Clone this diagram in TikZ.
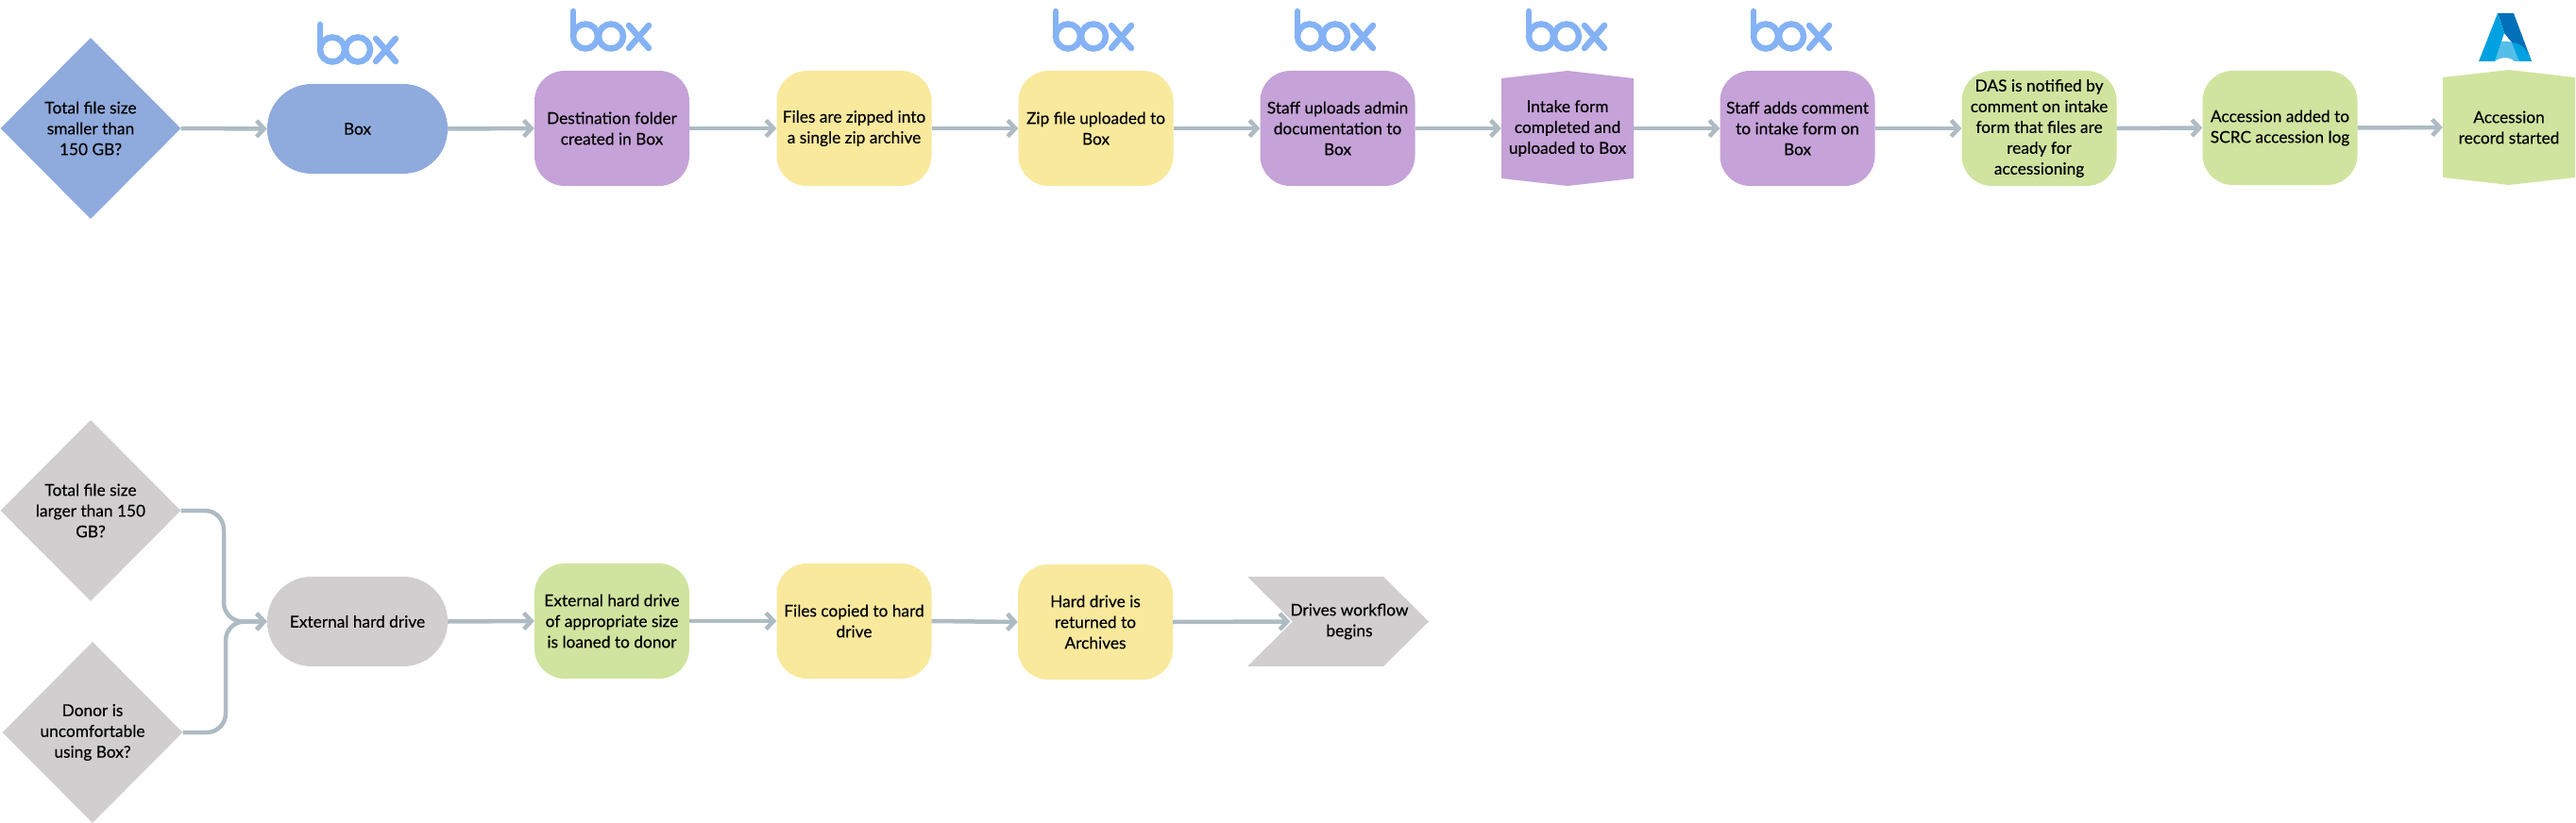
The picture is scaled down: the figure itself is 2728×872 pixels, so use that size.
\documentclass[tikz,border=0pt]{standalone}
\usepackage{fontspec}
\setmainfont{Lato}[UprightFeatures={FakeBold=0.25}]
\usetikzlibrary{shapes.geometric,arrows.meta}
\definecolor{cblue}{HTML}{8FAADC}
\definecolor{cpurple}{HTML}{C5A2D8}
\definecolor{cyellow}{HTML}{F9E99D}
\definecolor{cgreen}{HTML}{D0E49F}
\definecolor{cgrey}{HTML}{D0CECE}
\definecolor{cline}{HTML}{AEBBC3}
\definecolor{cbox}{HTML}{84B2F4}
\definecolor{azA}{HTML}{00A1E0}
\definecolor{azB}{HTML}{0270B8}
\definecolor{azC}{HTML}{53BFE8}
\tikzset{
 x=1pt,y=-1pt,
 txt/.style={font=\fontsize{17.3}{22}\selectfont,align=center,text=black,inner sep=0pt},
 flow/.style={txt,rectangle,rounded corners=32pt,minimum width=164pt,minimum height=122pt},
 term/.style={txt,rectangle,rounded corners=47pt,minimum width=191pt,minimum height=95pt},
 deci/.style={txt,diamond,shape aspect=1,minimum width=191pt,minimum height=192pt},
 plain/.style={txt,rectangle,minimum width=140pt,minimum height=106pt},
 conn/.style={draw=cline,line width=4.5pt,-{Straight Barb[length=8pt,width=17pt,line width=4.5pt]}},
 boxlogo/.pic={
  \begin{scope}[draw=cbox,line width=6.5pt,line cap=round]
   \draw (3,3) -- (3,29);
   \draw (16,29.5) circle [radius=13];
   \draw (43,29.5) circle [radius=13];
   \draw (62,18) -- (83,42);
   \draw (83,18) -- (62,42);
  \end{scope}}
}
\begin{document}
\begin{tikzpicture}
\useasboundingbox (0,0) rectangle (2728,872);
% top row
\node[deci,fill=cblue] (d1) at (96,136) {Total file size\\smaller than\\150 GB?};
\node[term,fill=cblue] (t1) at (378.5,136.5) {Box};
\node[flow,fill=cpurple] (a1) at (648,136) {Destination folder\\created in Box};
\node[flow,fill=cyellow] (a2) at (904.5,136) {Files are zipped into\\a single zip archive};
\node[flow,fill=cyellow] (a3) at (1160.5,136) {Zip file uploaded to\\Box};
\node[flow,fill=cpurple] (a4) at (1416.5,136) {Staff uploads admin\\documentation to\\Box};
\fill[cpurple] (1590,83) -- (1660,75) -- (1730,83) -- (1730,189) -- (1660,197) -- (1590,189) -- cycle;
\node[plain] (a5) at (1660,136) {Intake form\\completed and\\uploaded to Box};
\node[flow,fill=cpurple] (a6) at (1903.5,136) {Staff adds comment\\to intake form on\\Box};
\node[flow,fill=cgreen] (a7) at (2159.5,136) {DAS is notified by\\comment on intake\\form that files are\\ready for\\accessioning};
\node[flow,fill=cgreen,minimum height=121pt] (a8) at (2414.5,135.5) {Accession added to\\SCRC accession log};
\fill[cgreen] (2587,82) -- (2657,74) -- (2727,82) -- (2727,188) -- (2657,196) -- (2587,188) -- cycle;
\node[plain] (a9) at (2657,135) {Accession\\record started};
% logos
\pic at (336,23) {boxlogo};
\pic at (604,9) {boxlogo};
\pic at (1115,9) {boxlogo};
\pic at (1371,9) {boxlogo};
\pic at (1616,9) {boxlogo};
\pic at (1854,9) {boxlogo};
% azure logo
\fill[azB] (2645,14) -- (2662,14) -- (2681,65) -- (2660,45) -- (2652,35) -- cycle;
\fill[azC] (2649,44) -- (2656,44) -- (2661,45) -- (2668,65) -- (2663,65) .. controls (2658,60) and (2648,60) .. (2642,65) -- cycle;
\fill[azA] (2660,45) .. controls (2672,46) and (2677,54) .. (2681,65) -- (2668,65) -- cycle;
\fill[azA] (2625,65) -- (2645,14) -- (2652,35) -- (2649,44) -- (2642,65) -- cycle;
% top connectors
\draw[conn] (d1.east) -- (t1.west);
\draw[conn] (t1.east) -- (a1.west);
\draw[conn] (a1.east) -- (a2.west);
\draw[conn] (a2.east) -- (a3.west);
\draw[conn] (a3.east) -- (a4.west);
\draw[conn] (a4.east) -- (a5.west);
\draw[conn] (a5.east) -- (a6.west);
\draw[conn] (a6.east) -- (a7.west);
\draw[conn] (a7.east) -- (a8.west);
\draw[conn] (a8.east) -- (a9.west);
% bottom row
\node[deci,fill=cgrey] (d2) at (96,541) {Total file size\\larger than 150\\GB?};
\node[deci,fill=cgrey] (d3) at (98,776) {Donor is\\uncomfortable\\using Box?};
\node[term,fill=cgrey] (t2) at (378.5,658.5) {External hard drive};
\node[flow,fill=cgreen] (b1) at (648,658) {External hard drive\\of appropriate size\\is loaned to donor};
\node[flow,fill=cyellow] (b2) at (904.5,658) {Files copied to hard\\drive};
\node[flow,fill=cyellow] (b3) at (1160,659) {Hard drive is\\returned to\\Archives};
\fill[cgrey] (1321,611) -- (1465,611) -- (1513,658.5) -- (1465,706) -- (1321,706) -- (1369,658.5) -- cycle;
\node[txt,rectangle,minimum width=120pt,minimum height=95pt] (b4) at (1429,658.5) {Drives workflow\\begins};
\coordinate (m1) at (237,541);
\coordinate (m2) at (237,658.5);
\coordinate (m3) at (239,776);
\coordinate (m4) at (239,658.5);
\draw[conn,rounded corners=20pt] (d2.east) -- (m1) -- (m2) -- (t2.west);
\draw[conn,rounded corners=20pt] (d3.east) -- (m3) -- (m4) -- (t2.west);
\draw[conn] (t2.east) -- (b1.west);
\draw[conn] (b1.east) -- (b2.west);
\draw[conn] (b2.east) -- (b3.west);
\draw[conn] (b3.east) -- (b4.west);
\end{tikzpicture}
\end{document}
